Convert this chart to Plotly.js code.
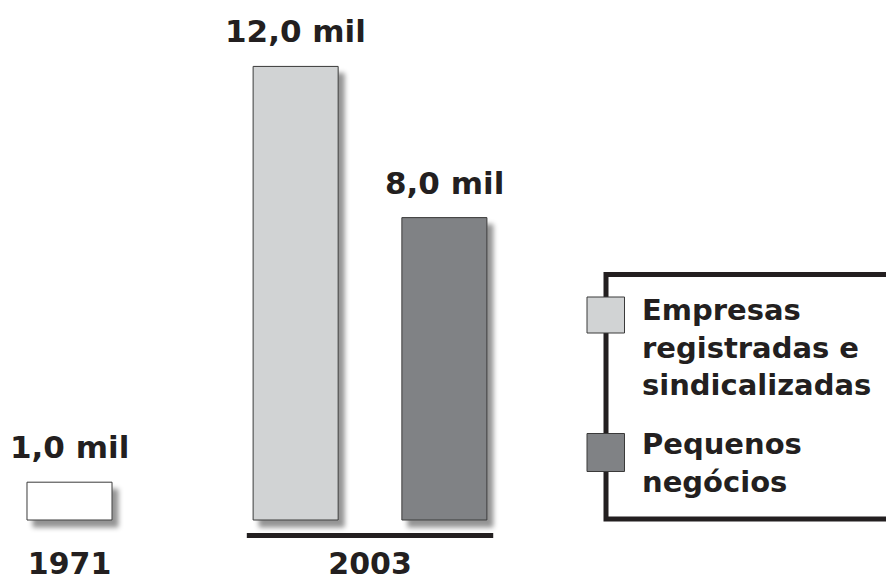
<!DOCTYPE html>
<html>
<head>
<meta charset="utf-8">
<script src="https://cdn.plot.ly/plotly-3.0.1.min.js"></script>
<style>
  html, body { margin: 0; padding: 0; background: #fff; }
  #chart { width: 886px; height: 581px; }
  .barlayer .point path { filter: url(#barshadow); }
  #chart .cartesianlayer, #chart .cartesianlayer * { clip-path: none !important; }
</style>
</head>
<body>
<svg width="0" height="0" style="position:absolute">
  <defs>
    <filter id="barshadow" filterUnits="userSpaceOnUse" x="-100" y="-100" width="1200" height="800">
      <feGaussianBlur in="SourceAlpha" stdDeviation="2.6" result="blur"/>
      <feOffset in="blur" dx="6" dy="7" result="off"/>
      <feFlood flood-color="#000" flood-opacity="0.42" result="col"/>
      <feComposite in="col" in2="off" operator="in" result="shadow"/>
      <feMerge>
        <feMergeNode in="shadow"/>
        <feMergeNode in="SourceGraphic"/>
      </feMerge>
    </filter>
  </defs>
</svg>
<div id="chart"></div>
<script>
// ---- data ----
const years = ["1971", "2003"];
const totalName = "Total";
const totalYears = ["1971"];
const totalValues = [1.0];
const seriesNames = ["Empresas<br>registradas e<br>sindicalizadas", "Pequenos<br>negócios"];
const seriesYears = ["2003"];
const empresasValues = [12.0];
const pequenosValues = [8.0];
const unit = " mil";

// ---- styles ----
const txt = "#231f20";
const edge = "#3a3a3a";
const colTotal = "#ffffff";
const colEmp = "#d1d3d4";
const colPeq = "#808285";
const barW = 0.283;
const font = { family: "DejaVu Sans, Verdana, sans-serif", weight: "bold", color: txt };

function fmt(v) { return v.toFixed(1).replace(".", ",") + unit; }

const specs = [
  { name: totalName, x: totalYears, y: totalValues, color: colTotal, offset: -barW / 2 },
  { name: seriesNames[0], x: seriesYears, y: empresasValues, color: colEmp, offset: -0.389 },
  { name: seriesNames[1], x: seriesYears, y: pequenosValues, color: colPeq, offset: 0.106 }
];

const traces = specs.map(s => ({
  type: "bar",
  name: s.name,
  x: s.x,
  y: s.y,
  width: barW,
  offset: s.offset,
  cliponaxis: false,
  marker: { color: s.color, line: { color: edge, width: 1 } },
  hoverinfo: "skip"
}));

const annotations = [];
specs.forEach(s => {
  s.x.forEach((cat, i) => {
    annotations.push({
      x: years.indexOf(cat) + s.offset + barW / 2,
      y: s.y[i],
      xref: "x", yref: "y",
      text: fmt(s.y[i]),
      showarrow: false,
      xanchor: "center", yanchor: "bottom",
      yshift: 15,
      font: Object.assign({}, font, { size: 31 })
    });
  });
});

// legend texts
const legendY = [(520 - 347) / 520, (520 - 463) / 520];
seriesNames.forEach((n, i) => {
  annotations.push({
    x: 640 / 886, y: legendY[i], xref: "paper", yref: "paper",
    text: n, showarrow: false, xanchor: "left", yanchor: "middle", align: "left",
    font: Object.assign({}, font, { size: 29 })
  });
});

const shapes = [
  // baseline under 2003
  { type: "line", xref: "x", yref: "paper", x0: 0.59, x1: 1.41, y0: -15.5 / 520, y1: -15.5 / 520,
    line: { color: txt, width: 5 } },
  // legend frame (open to the right edge)
  { type: "rect", xref: "paper", yref: "paper", x0: 606 / 886, x1: 1.05, y0: 1 / 520, y1: (520 - 274.5) / 520,
    line: { color: txt, width: 5 }, fillcolor: "rgba(0,0,0,0)" },
  // legend swatches
  { type: "rect", xref: "paper", yref: "paper", x0: 587 / 886, x1: 624.5 / 886, y0: (520 - 333) / 520, y1: (520 - 297) / 520,
    line: { color: edge, width: 1 }, fillcolor: colEmp },
  { type: "rect", xref: "paper", yref: "paper", x0: 587 / 886, x1: 624.5 / 886, y0: (520 - 471.5) / 520, y1: (520 - 433.5) / 520,
    line: { color: edge, width: 1 }, fillcolor: colPeq }
];

const layout = {
  width: 886, height: 581,
  margin: { l: 0, r: 0, t: 0, b: 61, pad: 0 },
  paper_bgcolor: "#ffffff", plot_bgcolor: "#ffffff",
  barmode: "overlay",
  showlegend: false,
  hovermode: false,
  xaxis: {
    type: "category", categoryorder: "array", categoryarray: years,
    range: [-0.2313, 2.717],
    showgrid: false, zeroline: false, showline: false, ticks: "",
    tickfont: Object.assign({}, font, { size: 30 }),
    ticklabelstandoff: 23
  },
  yaxis: { range: [0, 13.757], visible: false, showgrid: false, zeroline: false },
  annotations: annotations,
  shapes: shapes
};

Plotly.newPlot("chart", traces, layout, { displayModeBar: false, staticPlot: true }).then(gd => {
  gd.querySelectorAll(".cartesianlayer [clip-path]").forEach(el => el.removeAttribute("clip-path"));
});
</script>
</body>
</html>
